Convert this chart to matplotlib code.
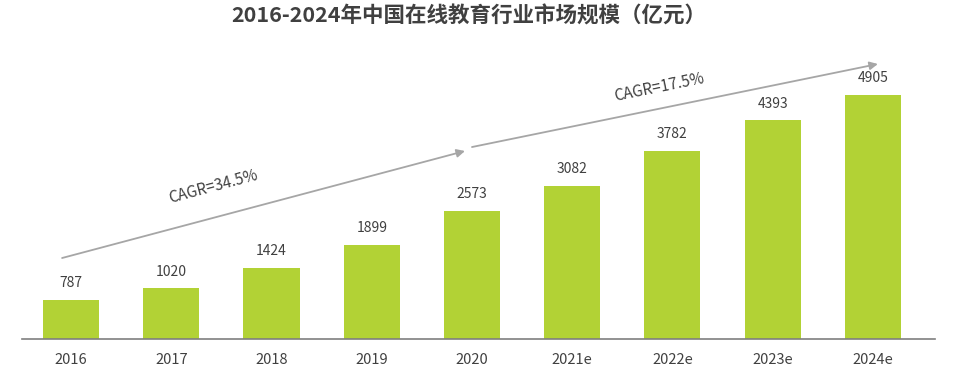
import matplotlib.pyplot as plt

plt.rcParams['font.family'] = ['Noto Sans CJK SC', 'DejaVu Sans']

years = ['2016', '2017', '2018', '2019', '2020', '2021e', '2022e', '2023e', '2024e']
market_size = [787, 1020, 1424, 1899, 2573, 3082, 3782, 4393, 4905]
cagr_labels = ['CAGR=34.5%', 'CAGR=17.5%']

bar_color = '#B2D235'
text_color = '#404040'
arrow_color = '#A6A6A6'

fig = plt.figure(figsize=(9.73, 3.76), dpi=100)
ax = fig.add_axes([22 / 973, 1 - 339 / 376, (935 - 22) / 973, (339 - 45) / 376])

x = range(len(years))
bars = ax.bar(x, market_size, width=0.56, color=bar_color)

for xi, v in zip(x, market_size):
    ax.annotate(str(v), (xi, v), xytext=(0, 7), textcoords='offset points',
                ha='center', va='bottom', fontsize=10, color=text_color)

ax.set_xlim(-0.49, 8.62)
ax.set_ylim(0, 5910)
ax.set_xticks(list(x))
ax.set_xticklabels(years, fontsize=10.5, color=text_color)
ax.tick_params(axis='x', length=0, pad=10)
ax.set_yticks([])
for s in ['top', 'right', 'left']:
    ax.spines[s].set_visible(False)
ax.spines['bottom'].set_color('#7F7F7F')
ax.spines['bottom'].set_linewidth(1.2)

# CAGR arrows
ax.annotate('', xy=(3.93, 3779), xytext=(-0.09, 1628),
            arrowprops=dict(arrowstyle='-|>', color=arrow_color, lw=1.3,
                            mutation_scale=12, shrinkA=0, shrinkB=0))
ax.annotate('', xy=(8.05, 5528), xytext=(4.0, 3859),
            arrowprops=dict(arrowstyle='-|>', color=arrow_color, lw=1.3,
                            mutation_scale=12, shrinkA=0, shrinkB=0))
ax.text(1.42, 3050, cagr_labels[0], rotation=15, ha='center', va='center',
        fontsize=11, color=text_color)
ax.text(5.87, 5050, cagr_labels[1], rotation=11.5, ha='center', va='center',
        fontsize=11, color=text_color)

fig.suptitle('2016-2024年中国在线教育行业市场规模（亿元）', fontsize=15.5,
             fontweight='bold', color=text_color, y=0.985, x=0.482)

fig.savefig('out.png', dpi=100)
